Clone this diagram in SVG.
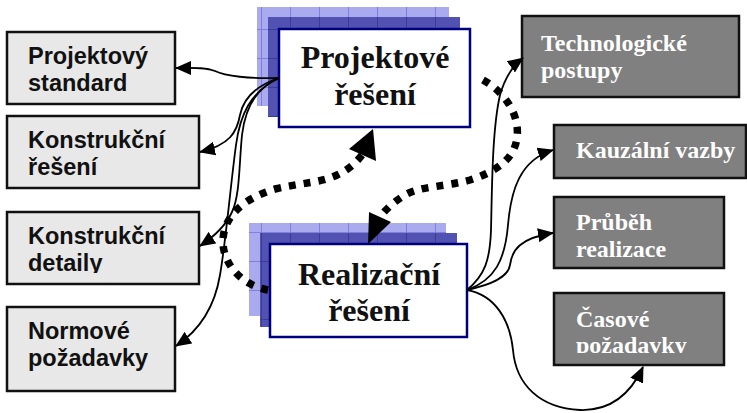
<svg xmlns="http://www.w3.org/2000/svg" width="747" height="413" viewBox="0 0 747 413">
<style>
.lbox{fill:#e8e8e8;stroke:#111;stroke-width:2.5}
.rbox{fill:#808080;stroke:#111;stroke-width:2.5}
.cbox{fill:#fff;stroke:#00007f;stroke-width:2.5}
.ltxt{font-family:"Liberation Sans",Arial,sans-serif;font-weight:bold;font-size:23.5px;fill:#111}
.rtxt{font-family:"Liberation Serif","Times New Roman",serif;font-weight:bold;font-size:24px;fill:#fff}
.ctxt{font-family:"Liberation Serif","Times New Roman",serif;font-weight:bold;font-size:32px;fill:#111;text-anchor:middle}
.light{fill:url(#gridLight)}
.dark{fill:url(#gridDark)}
.conn{fill:none;stroke:#000;stroke-width:1.8;marker-end:url(#arr)}
.dots{fill:none;stroke:#000;stroke-width:7.5;stroke-dasharray:7 8}
</style>
<defs>
<pattern id="gridLight" patternUnits="userSpaceOnUse" width="29" height="29">
<rect width="29" height="29" fill="#aaaaee"/>
<path d="M0,0.5H29M0.5,0V29" stroke="#8080dc" stroke-width="1"/>
</pattern>
<pattern id="gridDark" patternUnits="userSpaceOnUse" width="29" height="29">
<rect width="29" height="29" fill="#5252b2"/>
<path d="M0,0.5H29M0.5,0V29" stroke="#3c3c98" stroke-width="1"/>
</pattern>
<marker id="arr" markerUnits="userSpaceOnUse" markerWidth="16" markerHeight="14" viewBox="0 0 16 14" refX="15" refY="7" orient="auto">
<path d="M0,0L16,7L0,14z" fill="#000"/>
</marker>
<clipPath id="clipDet"><rect x="0" y="200" width="220" height="73"/></clipPath>
<clipPath id="clipCas"><rect x="550" y="290" width="190" height="63"/></clipPath>
</defs>

<g id="projektovy-standard">
<rect class="lbox" x="7" y="32" width="168" height="72"/>
<text class="ltxt" x="28" y="64">Projektový</text>
<text class="ltxt" x="28" y="91">standard</text>
</g>
<g id="konstrukcni-reseni">
<rect class="lbox" x="7" y="116" width="192" height="72"/>
<text class="ltxt" x="28" y="148">Konstrukční</text>
<text class="ltxt" x="28" y="175">řešení</text>
</g>
<g id="konstrukcni-detaily">
<rect class="lbox" x="7" y="212" width="192" height="72"/>
<g clip-path="url(#clipDet)">
<text class="ltxt" x="28" y="244">Konstrukční</text>
<text class="ltxt" x="28" y="271">detaily</text>
</g>
</g>
<g id="normove-pozadavky">
<rect class="lbox" x="7" y="307" width="168" height="84"/>
<text class="ltxt" x="28" y="339">Normové</text>
<text class="ltxt" x="28" y="366">požadavky</text>
</g>

<g id="projektove-reseni">
<rect class="light" x="257" y="7" width="192" height="99"/>
<rect class="dark" x="268" y="17" width="192" height="100"/>
<rect class="cbox" x="279" y="29" width="191" height="98"/>
<text class="ctxt" x="375" y="68">Projektové</text>
<text class="ctxt" x="375" y="105">řešení</text>
</g>
<g id="realizacni-reseni">
<rect class="light" x="249" y="223" width="197" height="93"/>
<rect class="dark" x="260" y="233" width="197" height="94"/>
<rect class="cbox" x="270" y="244" width="197" height="93"/>
<text class="ctxt" x="369" y="285">Realizační</text>
<text class="ctxt" x="369" y="321">řešení</text>
</g>

<g id="technologicke-postupy">
<rect class="rbox" x="522" y="16" width="217" height="81"/>
<text class="rtxt" x="541" y="51">Technologické</text>
<text class="rtxt" x="541" y="78">postupy</text>
</g>
<g id="kauzalni-vazby">
<rect class="rbox" x="554" y="125" width="192" height="53"/>
<text class="rtxt" x="576" y="158">Kauzální vazby</text>
</g>
<g id="prubeh-realizace">
<rect class="rbox" x="554" y="197" width="170" height="71"/>
<text class="rtxt" x="576" y="230">Průběh</text>
<text class="rtxt" x="576" y="257">realizace</text>
</g>
<g id="casove-pozadavky">
<rect class="rbox" x="554" y="293" width="170" height="72"/>
<g clip-path="url(#clipCas)">
<text class="rtxt" x="576" y="327">Časové</text>
<text class="rtxt" x="576" y="353">požadavky</text>
</g>
</g>

<g id="connectors">
<path class="conn" d="M279,78 C250,79 225,76 215,71 C205,67 192,68 176,68"/>
<path class="conn" d="M279,78 C255,86 243,100 240,115 C237,132 230,145 200,152"/>
<path class="conn" d="M279,78 C255,88 245,110 242,135 C239,165 240,195 232,212 C226,225 215,236 200,246"/>
<path class="conn" d="M279,78 C250,92 240,115 236,145 C230,190 226,240 220,275 C215,305 200,330 176,346"/>
<path class="conn" d="M467,290 C485,275 490,260 491,230 C492,190 492,130 500,95 C505,78 512,66 523,58"/>
<path class="conn" d="M467,290 C495,280 505,260 508,225 C511,190 520,160 553,150"/>
<path class="conn" d="M467,290 C490,285 508,278 510,265 C512,250 520,238 553,233"/>
<path class="conn" d="M467,290 C495,295 510,320 513,350 C516,385 540,408 580,410 C610,411 630,395 643,367"/>
<path class="dots" d="M483,80 C505,92 520,115 517,138 C514,160 495,172 470,180 C445,187 420,186 405,195 C395,201 386,209 380,217"/>
<polygon points="368,244 391,222 369,212" fill="#000"/>
<path class="dots" d="M268,290 C240,285 222,262 223,240 C224,215 245,198 275,189 C300,183 320,183 337,175 C348,170 356,163 362,155"/>
<polygon points="373,129 349,149 376,161" fill="#000"/>
</g>
</svg>
